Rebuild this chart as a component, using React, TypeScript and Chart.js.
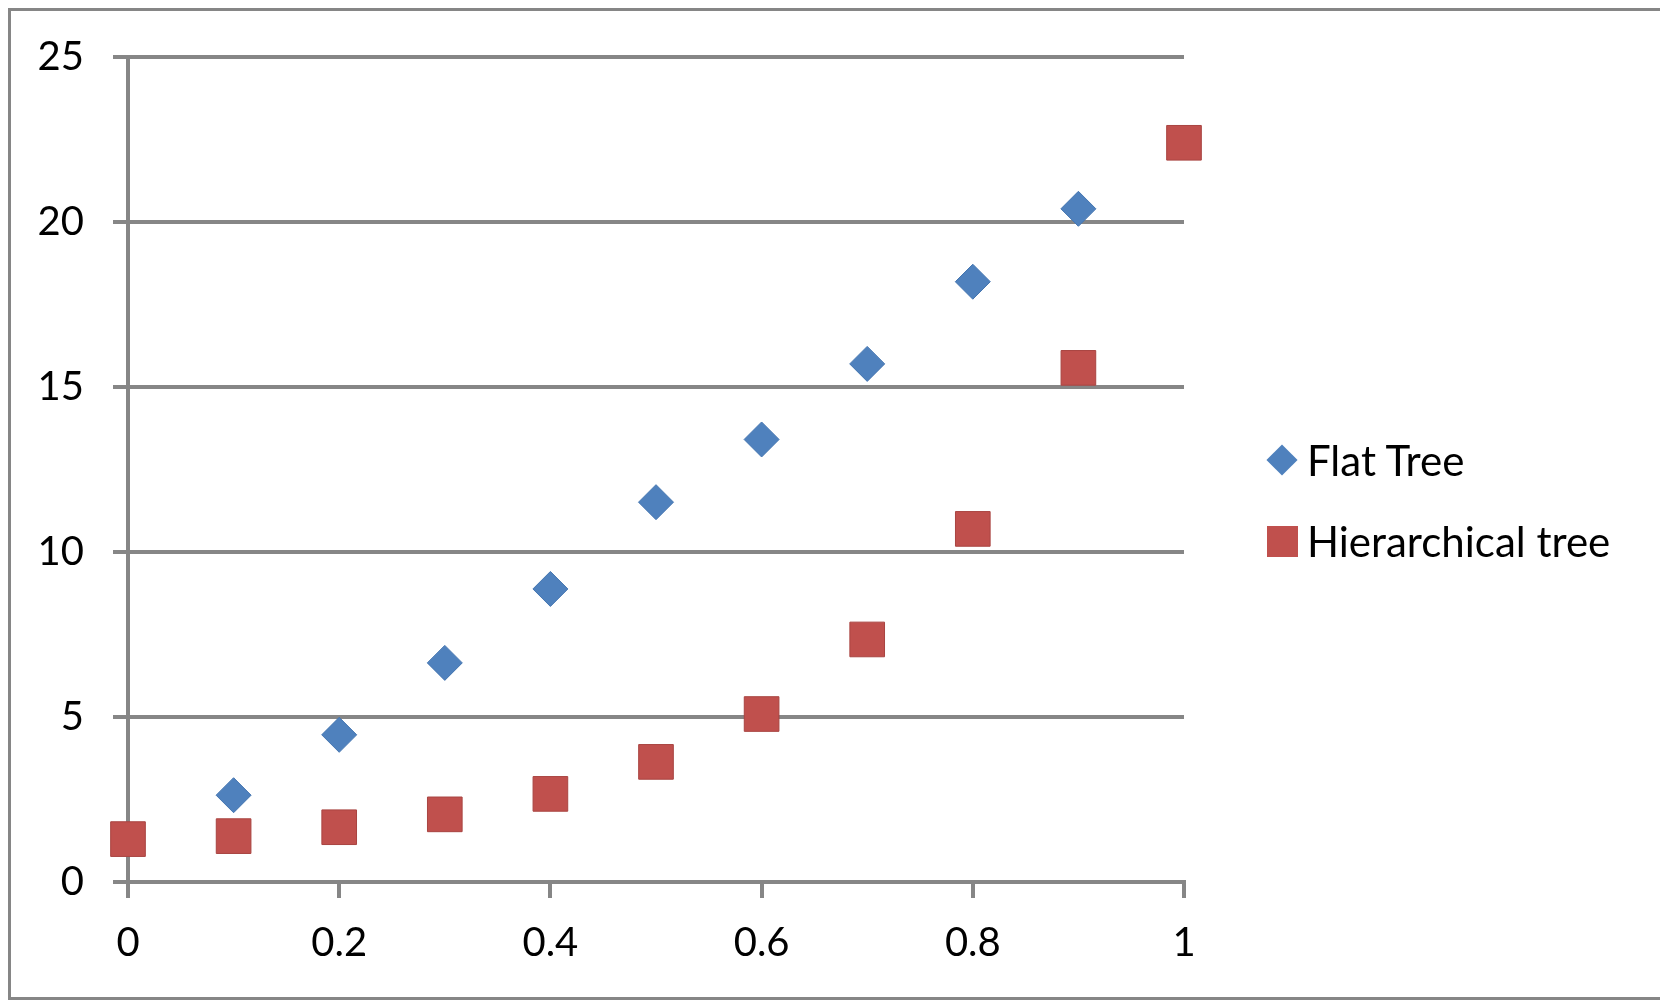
import React, { useRef, useEffect } from 'react';
import { Chart, ChartConfiguration, registerables } from 'chart.js';

Chart.register(...registerables);

// Data
const xValues = [0, 0.1, 0.2, 0.3, 0.4, 0.5, 0.6, 0.7, 0.8, 0.9, 1];
const flatTree = [null, 2.63, 4.46, 6.64, 8.88, 11.51, 13.41, 15.7, 18.19, 20.4, null];
const hierarchicalTree = [1.3, 1.39, 1.66, 2.05, 2.67, 3.64, 5.09, 7.35, 10.7, 15.58, 22.4];
const seriesNames = ['Flat Tree', 'Hierarchical tree'];

const BLUE = '#4F81BD';
const RED = '#C0504D';
const GRID = '#868686';
const FONT = 'Lato, "Open Sans", sans-serif';

const toPoints = (ys: (number | null)[]) =>
  xValues.map((x, i) => ({ x, y: ys[i] }));

const App: React.FC = () => {
  const chartRef = useRef<HTMLCanvasElement>(null);
  const chartInstance = useRef<Chart | null>(null);

  useEffect(() => {
    if (!chartRef.current) return;
    if (chartInstance.current) chartInstance.current.destroy();
    const ctx = chartRef.current.getContext('2d');
    if (!ctx) return;

    const config: ChartConfiguration = {
      type: 'scatter',
      data: {
        datasets: [
          {
            label: seriesNames[0],
            data: toPoints(flatTree) as any,
            pointStyle: 'rectRot',
            pointRadius: 17.5,
            pointHoverRadius: 17.5,
            backgroundColor: BLUE,
            borderColor: '#4475B0',
            borderWidth: 1,
            clip: false as any,
          },
          {
            label: seriesNames[1],
            data: toPoints(hierarchicalTree) as any,
            pointStyle: 'rect',
            pointRadius: 24.5,
            pointHoverRadius: 24.5,
            backgroundColor: RED,
            borderColor: '#A94441',
            borderWidth: 1,
            clip: false as any,
          },
        ],
      },
      options: {
        responsive: true,
        maintainAspectRatio: false,
        animation: false,
        layout: { padding: { left: 0, top: 46, right: 476, bottom: 0 } },
        plugins: {
          legend: { display: false }, // HTML legend on the right
          tooltip: { enabled: false },
        },
        scales: {
          x: {
            type: 'linear',
            min: 0,
            max: 1,
            afterFit: (scale: any) => {
              scale.height = 115;
            },
            grid: {
              drawOnChartArea: false,
              drawTicks: true,
              tickLength: 16,
              color: GRID,
              lineWidth: 4,
            },
            border: { display: true, color: GRID, width: 4 },
            ticks: {
              stepSize: 0.2,
              color: '#000',
              padding: 21,
              maxRotation: 0,
              font: { family: FONT, size: 40 },
              callback: (v: any) => String(Math.round(Number(v) * 10) / 10),
            },
          },
          y: {
            type: 'linear',
            min: 0,
            max: 25,
            afterFit: (scale: any) => {
              scale.width = 117;
              // keep the plot top where the layout padding puts it
              scale.paddingTop = 0;
              scale.paddingBottom = 0;
            },
            grid: {
              drawTicks: true,
              tickLength: 15,
              color: GRID,
              lineWidth: 4,
            },
            border: { display: true, color: GRID, width: 4 },
            ticks: {
              stepSize: 5,
              color: '#000',
              padding: 29,
              font: { family: FONT, size: 40 },
            },
          },
        },
      },
    };

    chartInstance.current = new Chart(ctx, config);

    return () => {
      if (chartInstance.current) {
        chartInstance.current.destroy();
        chartInstance.current = null;
      }
    };
  }, []);

  return (
    <div
      style={{
        position: 'relative',
        width: 1655,
        height: 992,
        boxSizing: 'border-box',
        border: `3px solid ${GRID}`,
        background: '#fff',
        fontFamily: FONT,
      }}
    >
      <div style={{ position: 'absolute', left: 0, top: 0, width: 1649, height: 986 }}>
        <canvas ref={chartRef}></canvas>
      </div>

      {/* Legend */}
      <div style={{ position: 'absolute', left: 1254, top: 425, fontSize: 42, color: '#000' }}>
        <div style={{ display: 'flex', alignItems: 'center', height: 48 }}>
          <div style={{ width: 34, display: 'flex', justifyContent: 'center' }}>
            <div style={{ width: 22, height: 22, background: BLUE, transform: 'rotate(45deg)' }}></div>
          </div>
          <span style={{ marginLeft: 8, lineHeight: '48px' }}>{seriesNames[0]}</span>
        </div>
        <div style={{ display: 'flex', alignItems: 'center', height: 48, marginTop: 33 }}>
          <div style={{ width: 34, display: 'flex', justifyContent: 'center' }}>
            <div style={{ width: 31, height: 31, background: RED }}></div>
          </div>
          <span style={{ marginLeft: 8, lineHeight: '48px' }}>{seriesNames[1]}</span>
        </div>
      </div>
    </div>
  );
};

export default App;
